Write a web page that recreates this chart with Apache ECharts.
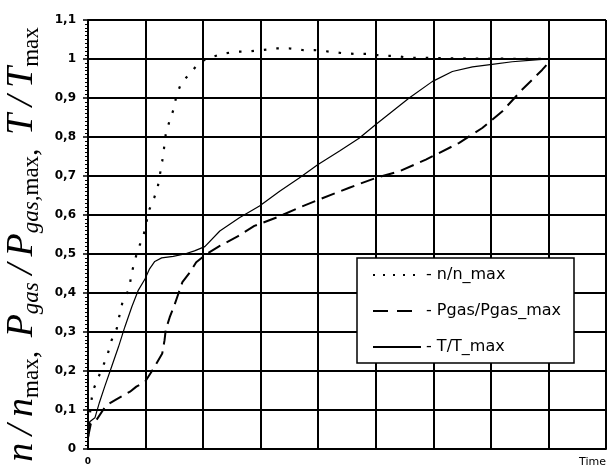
<!DOCTYPE html>
<html>
<head>
<meta charset="utf-8">
<script src="https://cdn.jsdelivr.net/npm/echarts@6/dist/echarts.min.js"></script>
<style>
html,body{margin:0;padding:0;background:#fff;}
#c{width:607px;height:466px;}
</style>
</head>
<body>
<div id="c"></div>
<script>
// ---- data ----
const seriesNames = ['n/n_max', 'Pgas/Pgas_max', 'T/T_max'];

const nX = [0, 0.04, 0.08, 0.16, 0.25, 0.34, 0.41, 0.50, 0.55, 0.60, 0.72, 0.75, 0.81, 0.87, 0.96, 1.06, 1.15, 1.21, 1.25, 1.29, 1.32, 1.35, 1.41, 1.48, 1.54, 1.62, 1.79, 1.94, 2.11, 2.32, 2.58, 2.78, 3.27, 3.50, 3.73, 3.93, 4.19, 4.42, 4.66, 4.89, 5.12, 5.35, 5.58, 5.81, 6.2, 7.0, 8.0];
const nY = [0.03, 0.10, 0.147, 0.177, 0.208, 0.242, 0.279, 0.309, 0.345, 0.377, 0.412, 0.446, 0.481, 0.513, 0.544, 0.612, 0.644, 0.670, 0.704, 0.738, 0.770, 0.806, 0.838, 0.868, 0.908, 0.938, 0.966, 0.992, 1.003, 1.013, 1.019, 1.019, 1.027, 1.027, 1.023, 1.023, 1.019, 1.015, 1.013, 1.013, 1.008, 1.008, 1.003, 1.003, 1.002, 1.001, 1.0];

const pX = [0, 0.05, 0.15, 0.31, 0.50, 0.73, 0.84, 0.99, 1.13, 1.29, 1.33, 1.35, 1.42, 1.50, 1.57, 1.64, 1.77, 1.88, 2.08, 2.29, 2.60, 2.89, 3.30, 3.67, 4.02, 4.54, 5.0, 5.41, 5.87, 6.45, 6.85, 7.2, 7.54, 7.89, 8.0];
const pY = [0.03, 0.065, 0.075, 0.111, 0.128, 0.147, 0.160, 0.172, 0.204, 0.245, 0.279, 0.305, 0.338, 0.368, 0.398, 0.428, 0.453, 0.479, 0.502, 0.521, 0.545, 0.572, 0.595, 0.619, 0.640, 0.670, 0.695, 0.712, 0.742, 0.785, 0.823, 0.866, 0.921, 0.972, 0.99];

const tX = [0, 0.03, 0.12, 0.2, 0.29, 0.41, 0.53, 0.64, 0.76, 0.87, 0.99, 1.07, 1.16, 1.28, 1.48, 1.68, 1.85, 2.03, 2.29, 2.63, 2.98, 3.33, 3.67, 3.99, 4.37, 4.71, 5.0, 5.29, 5.58, 5.98, 6.33, 6.68, 7.02, 7.37, 7.72, 8.0];
const tY = [0.02, 0.07, 0.08, 0.12, 0.16, 0.211, 0.262, 0.313, 0.364, 0.406, 0.436, 0.462, 0.481, 0.49, 0.494, 0.5, 0.508, 0.519, 0.559, 0.593, 0.623, 0.661, 0.695, 0.729, 0.764, 0.797, 0.832, 0.866, 0.9, 0.942, 0.968, 0.98, 0.986, 0.993, 0.997, 1.0];

const xTickLabels = ['0'];
const xAxisTitle = 'Time';

function zip(xs, ys) { return xs.map((x, i) => [x, ys[i]]); }

const chart = echarts.init(document.getElementById('c'), null, {renderer: 'canvas'});

const S = '\u2009';
const option = {
  animation: false,
  backgroundColor: '#fff',
  grid: {left: 88, right: 1, top: 20, bottom: 17, containLabel: false, outerBoundsMode: 'none'},
  legend: {
    orient: 'vertical',
    left: 357, top: 258,
    padding: [9, 13, 8, 15],
    itemWidth: 48, itemHeight: 14, itemGap: 20,
    backgroundColor: '#fff',
    borderColor: '#000', borderWidth: 1.5,
    itemStyle: {opacity: 0},
    textStyle: {fontFamily: 'DejaVu Sans', fontSize: 16, color: '#000'},
    formatter: name => '- ' + name,
    data: [
      {name: seriesNames[0], lineStyle: {type: [2, 8]}},
      {name: seriesNames[1], lineStyle: {type: [15, 9]}},
      {name: seriesNames[2]}
    ]
  },
  xAxis: {
    type: 'value', min: 0, max: 9, interval: 1,
    axisLine: {show: true, lineStyle: {color: '#000', width: 2}},
    axisTick: {show: false},
    splitLine: {show: true, lineStyle: {color: '#000', width: 2}},
    axisLabel: {
      margin: 8, fontFamily: 'DejaVu Sans', fontSize: 9, fontWeight: 'bold', color: '#000',
      formatter: v => (xTickLabels.indexOf(String(v)) >= 0 ? String(v) : '')
    },
    name: xAxisTitle, nameLocation: 'end', nameGap: 0,
    nameTextStyle: {fontFamily: 'DejaVu Sans', fontSize: 11, color: '#000', align: 'right', verticalAlign: 'top', padding: [8, 0, 0, 0]}
  },
  yAxis: {
    type: 'value', min: 0, max: 1.1, interval: 0.1,
    axisLine: {show: true, lineStyle: {color: '#000', width: 2}},
    axisTick: {show: true, length: 5, lineStyle: {color: '#000', width: 1.5}},
    minorTick: {show: true, splitNumber: 10, length: 3, lineStyle: {color: '#000', width: 1}},
    splitLine: {show: true, lineStyle: {color: '#000', width: 2}},
    axisLabel: {
      margin: 12, fontFamily: 'DejaVu Sans', fontSize: 12, fontWeight: 'bold', color: '#000',
      formatter: v => String(Math.round(v * 10) / 10).replace('.', ',')
    },
    name: '{i|n' + S + '/' + S + 'n}{s|max}{r|,' + S + ' }{i|P}{si|gas}{i|' + S + '/' + S + 'P}{si|gas,}{s|max}{r|,' + S + ' }{i|T' + S + '/' + S + 'T}{s|max}',
    nameLocation: 'middle', nameRotate: 90, nameGap: 44,
    nameTextStyle: {
      color: '#000',
      padding: [0, 20, 0, 0],
      rich: {
        i: {fontFamily: 'Liberation Serif', fontStyle: 'italic', fontSize: 38, lineHeight: 44, color: '#000', verticalAlign: 'middle'},
        r: {fontFamily: 'Liberation Serif', fontSize: 30, lineHeight: 44, color: '#000', verticalAlign: 'bottom'},
        s: {fontFamily: 'Liberation Serif', fontSize: 23, lineHeight: 44, color: '#000', verticalAlign: 'bottom'},
        si: {fontFamily: 'Liberation Serif', fontStyle: 'italic', fontSize: 23, lineHeight: 44, color: '#000', verticalAlign: 'bottom'}
      }
    }
  },
  series: [
    {name: seriesNames[0], type: 'line', symbol: 'none', data: zip(nX, nY),
     lineStyle: {color: '#000', width: 2.2, type: [2.5, 10]}, itemStyle: {color: '#000'}},
    {name: seriesNames[1], type: 'line', symbol: 'none', data: zip(pX, pY),
     lineStyle: {color: '#000', width: 2, type: [14, 7]}, itemStyle: {color: '#000'}},
    {name: seriesNames[2], type: 'line', symbol: 'none', data: zip(tX, tY),
     lineStyle: {color: '#000', width: 1.2, type: 'solid'}, itemStyle: {color: '#000'}}
  ]
};
chart.setOption(option);
</script>
</body>
</html>
